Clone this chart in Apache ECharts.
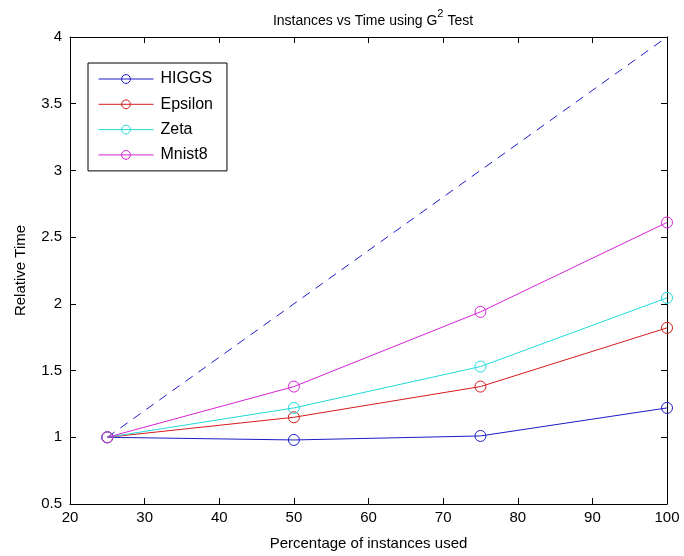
<!DOCTYPE html>
<html><head><meta charset="utf-8">
<script src="https://cdn.jsdelivr.net/npm/echarts@6/dist/echarts.min.js"></script>
<style>html,body{margin:0;padding:0;background:#fff}#c{width:684px;height:556px}</style>
</head><body><div id="c"></div>
<script>
const xValues = [25, 50, 75, 100];
const higgs = [1, 0.98, 1.01, 1.22];
const epsilon = [1, 1.15, 1.38, 1.82];
const zeta = [1, 1.22, 1.53, 2.045];
const mnist8 = [1, 1.38, 1.94, 2.61];
const ideal = [1, 2, 3, 4];
const seriesNames = ['HIGGS', 'Epsilon', 'Zeta', 'Mnist8'];
const colors = ['#1c1cc8', '#d41c1c', '#22dada', '#d822d8'];

const FONT = "'Liberation Sans Narrow', 'Liberation Sans', Arial, sans-serif";
const pairs = a => xValues.map((x, i) => [x, a[i]]);

const mk = (name, data, color) => ({
  name, type: 'line', data: pairs(data), symbol: 'circle', symbolSize: 11,
  showSymbol: true,
  itemStyle: { color: 'rgba(255,255,255,0)', borderColor: color, borderWidth: 1 },
  lineStyle: { color, width: 1 },
  emphasis: { disabled: true }, animation: false, z: 3
});

const chart = echarts.init(document.getElementById('c'), null, { renderer: 'canvas' });
chart.setOption({
  backgroundColor: '#fff',
  animation: false,
  title: {
    text: '{a|Instances vs Time using G}{s|2}{a| Test}',
    left: 368, top: 3, textAlign: 'center',
    textStyle: {
      rich: {
        a: { fontFamily: FONT, fontSize: 14, color: '#000', fontWeight: 'normal', verticalAlign: 'bottom', lineHeight: 20 },
        s: { fontFamily: FONT, fontSize: 11, color: '#000', fontWeight: 'normal', verticalAlign: 'top', lineHeight: 20, padding: [0, 0, 6, 0] }
      }
    }
  },
  legend: {
    left: 88, top: 63, orient: 'vertical',
    data: seriesNames,
    backgroundColor: '#fff', borderColor: '#000', borderWidth: 1,
    padding: [8, 14, 8, 10], itemWidth: 55, itemHeight: 11, itemGap: 9.3,
    itemStyle: { borderWidth: 1, color: 'rgba(255,255,255,0)' },
    lineStyle: { width: 1 },
    textStyle: { fontFamily: FONT, fontSize: 16, lineHeight: 14, color: '#000', padding: [0, 0, 0, 2] }
  },
  grid: { left: 70, right: 17, top: 37, bottom: 50, containLabel: false },
  xAxis: [{
    type: 'value', min: 20, max: 100, interval: 10,
    name: 'Percentage of instances used', nameLocation: 'middle', nameGap: 32,
    nameTextStyle: { fontFamily: FONT, fontSize: 15, color: '#000' },
    axisLine: { lineStyle: { color: '#000', width: 1 } },
    axisTick: { inside: true, length: 6, lineStyle: { color: '#000' } },
    axisLabel: { fontFamily: FONT, fontSize: 15, color: '#000', margin: 6 },
    splitLine: { show: false }
  }, {
    type: 'value', position: 'top', min: 20, max: 100, interval: 10,
    axisLine: { show: true, lineStyle: { color: '#000', width: 1 } },
    axisTick: { inside: true, length: 6, lineStyle: { color: '#000' } },
    axisLabel: { show: false }, splitLine: { show: false }
  }],
  yAxis: [{
    type: 'value', min: 0.5, max: 4, interval: 0.5,
    name: 'Relative Time', nameLocation: 'middle', nameGap: 42,
    nameTextStyle: { fontFamily: FONT, fontSize: 15, color: '#000' },
    axisLine: { show: true, lineStyle: { color: '#000', width: 1 } },
    axisTick: { show: true, inside: true, length: 6, lineStyle: { color: '#000' } },
    axisLabel: { fontFamily: FONT, fontSize: 15, color: '#000', margin: 8 },
    splitLine: { show: false }
  }, {
    type: 'value', position: 'right', min: 0.5, max: 4, interval: 0.5,
    axisLine: { show: true, lineStyle: { color: '#000', width: 1 } },
    axisTick: { show: true, inside: true, length: 6, lineStyle: { color: '#000' } },
    axisLabel: { show: false }, splitLine: { show: false }
  }],
  series: [
    {
      name: 'ideal', type: 'line', data: pairs(ideal), symbol: 'none',
      lineStyle: { color: '#1c1cc8', width: 1, type: [9, 7] },
      emphasis: { disabled: true }, z: 2
    },
    mk(seriesNames[0], higgs, colors[0]),
    mk(seriesNames[1], epsilon, colors[1]),
    mk(seriesNames[2], zeta, colors[2]),
    mk(seriesNames[3], mnist8, colors[3])
  ]
});
</script></body></html>
